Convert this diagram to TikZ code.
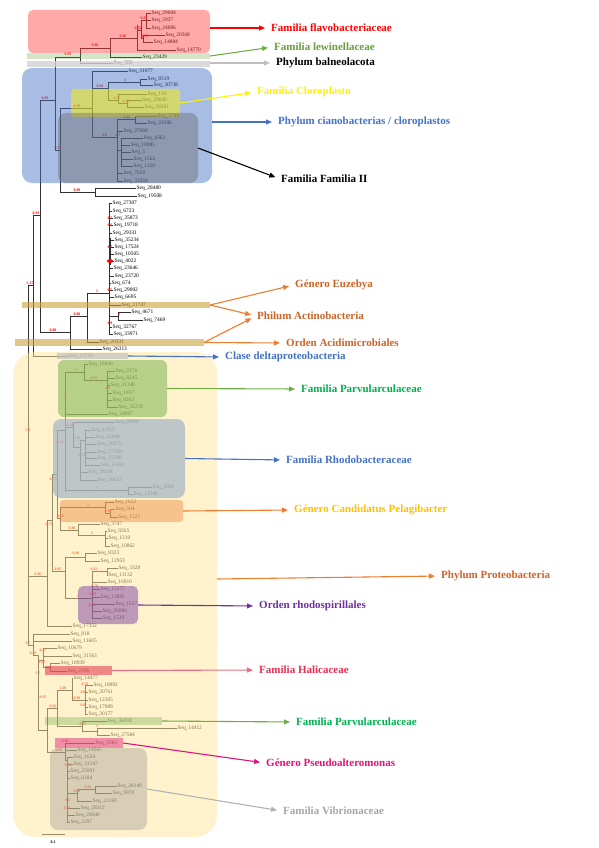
\documentclass[tikz,border=0pt]{standalone}
\usepackage{fontspec}
\setmainfont{Liberation Serif}
\usetikzlibrary{arrows.meta}

\definecolor{cBlue}{HTML}{4472C4}
\definecolor{cOrange}{HTML}{ED7D31}
\definecolor{cBrown}{HTML}{CC6428}
\definecolor{cGreen}{HTML}{70AD47}
\definecolor{cLeaf}{HTML}{00B050}
\definecolor{cOlive}{HTML}{6A9E3A}
\definecolor{cGold}{HTML}{FFC000}
\definecolor{cPurple}{HTML}{7030A0}
\definecolor{cCrimson}{HTML}{E5304F}
\definecolor{cMagenta}{HTML}{E0147A}
\definecolor{cTan}{HTML}{CDA03C}
\definecolor{cCream}{HTML}{FFE699}
\definecolor{cSlate}{HTML}{9DAFC8}
\definecolor{cTree}{HTML}{303030}

\begin{document}
\begin{tikzpicture}[x=1pt, y=-1pt, line join=round,
  br/.style={cTree, line width=0.65pt},
  seq/.style={anchor=west, inner sep=0.4pt, font=\fontsize{5.4}{5.6}\selectfont},
  bs/.style={inner sep=0pt, text=red, font=\fontsize{3.9}{4}\selectfont\bfseries},
  grp/.style={anchor=west, inner sep=1pt, font=\fontsize{11}{13}\selectfont\bfseries},
  box/.style={draw=none, inner sep=0pt, outer sep=0pt, anchor=north west},
  arr/.style={-{Triangle[width=5pt,length=6pt]}, line width=1.1pt, shorten >=5pt},
]
  % ── 分组框：左上角 + 右下角（像素坐标，y 向下）──
  \def\zone#1#2#3#4#5#6{%
    \node[box, #6, minimum width={(#4-#2)*1pt}, minimum height={(#5-#3)*1pt}] (#1) at (#2,#3) {};%
  }

  % ── 树：竖线 ──
  \foreach \x/\a/\b in {146/13/28, 143/35/42, 141/20/38, 137/25/50, 110/38/57, 80/48/63, 55/57/150,
      140/79/85, 127/100/107, 118/94/103, 108/82/100, 135/116/123, 121/138/166, 117/119/181,
      92/71/137, 95/188/196, 60/108/192,
      40/100/332, 118/312/320, 109/203/334, 87/293/342, 70/316/349, 33/215/356, 28/285/645,
      84/364/380, 107/371/407, 85/430/465, 80/440/480, 73/422/447, 128/487/494, 65/372/492,
      110/509/517, 105/502/513, 105/531/546, 78/524/535, 60/507/530, 57/430/518, 52/474/571,
      85/553/561, 107/568/575, 92/571/618, 65/557/598, 47/520/626,
      33/634/655, 43/648/667, 50/663/671, 38/655/730, 47/708/752, 57/690/726, 72/678/700,
      85/685/714, 82/721/731, 97/728/735, 65/743/760, 67/757/822, 77/789/801, 95/786/793}
    \draw[br] (\x,\a) -- (\x,\b);

  % ── 树：内部横线 ──
  \foreach \a/\b/\y in {141/146/20, 141/143/38, 137/141/30, 110/137/38, 80/110/48, 55/80/57,
      55/60/150, 40/55/100, 60/92/108, 92/108/88, 108/140/82, 108/118/100, 118/127/103,
      92/117/137, 117/135/119, 117/121/150, 60/95/192,
      33/40/215, 40/70/332, 70/87/316, 87/109/293, 109/118/316, 28/33/285,
      28/47/576, 47/52/520, 52/57/474, 52/65/571, 57/65/430, 57/60/518, 65/84/372, 84/107/380,
      65/73/427, 73/80/447, 80/85/440, 65/128/490, 60/105/507, 105/110/513, 60/78/530,
      78/105/535, 65/85/557, 65/92/598, 92/107/571,
      28/33/645, 33/38/655, 38/43/660, 43/50/667, 38/47/730, 47/57/708, 57/72/690, 72/85/700,
      57/82/726, 82/97/731, 47/65/752, 65/67/760, 67/77/793, 77/95/789}
    \draw[br] (\a,\y) -- (\b,\y);

  % ── 叶子：起点 / 标签 x / y / 编号 ──
  \foreach \a/\b/\y/\n in {146/151/13/29604, 146/151/20/5937, 146/151/28/24006, 143/165/35/20368,
      143/153/42/14884, 137/176/50/14770, 110/142/57/23429, 80/113/63/306,
      92/128/71/31077, 140/147/79/8519, 140/153/85/30738, 118/147/94/120, 127/142/100/20630,
      127/144/107/28261, 135/157/116/3749, 135/147/123/24586, 117/123/131/27004, 121/143/138/4362,
      121/130/145/10085, 121/131/152/5, 121/133/159/1562, 121/133/166/1120, 117/123/173/7650,
      117/123/181/33254, 95/136/188/28480, 95/137/196/19508,
      109/112/203/27307, 109/112/211/6723, 109/113/218/35873, 109/113/225/19718, 109/112/233/29331,
      109/114/240/35234, 109/114/247/17524, 109/114/254/10505, 109/114/261/4022, 109/113/268/23646,
      109/114/276/23720, 109/111/283/674, 109/113/290/29002, 109/114/297/6695, 109/121/305/21747,
      118/131/312/4671, 118/143/320/7469, 109/112/327/32767, 109/113/334/33971, 87/99/342/20331,
      70/102/349/26313, 33/68/356/13730,
      84/88/364/18440, 107/115/371/2176, 107/115/378/8245, 107/110/385/31340, 107/112/393/1457,
      107/112/400/8263, 107/118/407/32278, 65/108/414/24997, 73/115/422/20987, 85/91/430/11937,
      85/95/437/25084, 85/97/444/26075, 85/97/452/27509, 85/97/458/15598, 85/100/465/15361,
      80/88/472/28244, 80/97/480/28632, 128/152/487/3902, 128/133/494/12348, 105/114/502/1622,
      110/115/509/504, 110/118/517/1521, 78/100/524/3747, 105/107/531/9265, 105/108/538/1210,
      105/110/546/10862, 85/97/553/8323, 85/100/561/12953, 107/118/568/3328, 107/108/575/11132,
      92/107/582/16910, 92/100/589/15277, 92/100/597/13092, 92/115/604/1637, 92/102/611/26084,
      92/102/618/1539, 47/72/626/17352,
      33/70/634/818, 33/72/641/11605, 43/57/648/10679, 43/72/656/31563, 50/60/663/18939,
      50/67/671/2106, 72/73/678/14477, 85/93/685/18892, 85/88/692/20761, 85/88/700/12305,
      85/88/707/17989, 85/88/714/30177, 82/107/721/36018, 97/177/728/14412, 97/110/735/27584,
      65/95/743/3383, 65/77/750/14565, 67/73/757/1624, 67/73/764/31247, 67/70/771/25001,
      67/70/778/6184, 95/117/786/28140, 95/112/793/9970, 77/92/801/23169, 67/80/808/28312,
      67/75/815/24648, 67/70/822/2297} {
    \node[seq] (s\n) at (\b,\y) {Seq\_\n};
    \draw[br] (\a,\y) -- (s\n.west);
  }
  % 放线菌那一串叶子根部又粗又红
  \draw[cTree, line width=1.6pt] (110,238) -- (110,265);
  \fill[red] (110,261) ellipse (3 and 2);

  % ── 支持率（红色小字）──
  \foreach \x/\y/\v [count=\i] in {68/54/0.95, 95/45/0.80, 123/36/0.80, 138/28/0.93, 144/18/0.95,
      145/36/0.97, 45/98/0.93, 77/106/0.69, 100/86/0.93, 125/80/1, 117/98/0.77, 126/101/0.83,
      127/117/0.80, 105/135/0.6, 118/135/0.7, 58/148/0.77, 77/190/0.89, 36/213/0.93, 30/283/5.27,
      97/291/1, 77/314/0.88, 53/330/0.88, 119/314/1, 110/218/0.5, 110/225/0.6, 110/247/0.7,
      110/290/0.5, 110/323/0.9, 76/370/1, 94/378/0.95, 65/396/1, 108/388/0.9, 28/430/5.8,
      70/425/0.64, 60/442/0.51, 77/438/0.91, 82/455/0.55, 53/479/0.57, 97/488/1, 88/505/1,
      61/516/0.53, 108/511/0.92, 49/524/0.73, 72/528/0.80, 92/533/1, 76/553/0.86, 58/569/0.85,
      94/569/0.62, 78/596/1, 38/574/0.86, 95/586/0.76, 93/594/0.79, 92/605/0.62, 28/643/0.7,
      33/653/0.59, 43/650/0.67, 42/662/0.67, 38/673/3.7, 43/697/0.95, 63/688/1.00, 85/684/0.76,
      83/692/0.8, 83/705/0.8, 77/698/0.80, 83/724/0.75, 97/726/1, 53/706/0.62, 65/741/0.98,
      59/750/0.95, 68/765/0.95, 88/787/0.95, 77/791/0.80, 68/800/0.6, 67/808/0.95}
    \node[bs] (bs\i) at (\x,\y) {\v};

  % ── 标尺 ──
  \draw[br] (42,834) -- (65,834);
  \node[inner sep=0pt, font=\fontsize{4}{4.5}\selectfont\bfseries] (scalelbl) at (53,842) {0.1};

  % ── 半透明分组框（盖在树上）──
  \zone{proteobox}{13}{352}{217}{837}{fill=cCream, fill opacity=.5, rounded corners=22pt}
  \zone{flavobox}{28}{10}{210}{53}{fill=red!75, fill opacity=.45, rounded corners=5pt}
  \zone{lewinband}{27}{53}{210}{59}{fill=cGreen, fill opacity=.3}
  \zone{balneoband}{27}{61}{210}{67}{fill=black!18, fill opacity=.8}
  \zone{cyanobox}{22}{68}{212}{183}{fill=cBlue, fill opacity=.47, rounded corners=10pt}
  \zone{clorobox}{71}{89}{180}{117}{fill=yellow, fill opacity=.5, rounded corners=3pt}
  \zone{famIIbox}{58}{113}{198}{183}{fill=black!60, fill opacity=.4, rounded corners=8pt}
  \zone{actinoA}{22}{302}{210}{308}{fill=cTan, fill opacity=.6}
  \zone{actinoB}{15}{339}{204}{346}{fill=cTan, fill opacity=.6}
  \zone{deltaband}{57}{353}{128}{359}{fill=black!25, fill opacity=.7}
  \zone{parvbox}{58}{360}{167}{417}{fill=cGreen, fill opacity=.5, rounded corners=6pt}
  \zone{rhodobox}{53}{419}{185}{498}{fill=cSlate, fill opacity=.65, rounded corners=8pt}
  \zone{candidbox}{60}{500}{183}{522}{fill=cOrange, fill opacity=.4, rounded corners=3pt}
  \zone{rhodospbox}{78}{586}{138}{624}{fill=cPurple, fill opacity=.45, rounded corners=5pt}
  \zone{halicband}{45}{666}{112}{675}{fill=cCrimson, fill opacity=.55}
  \zone{parvband}{45}{717}{162}{725}{fill=cGreen, fill opacity=.35}
  \zone{pseudoband}{55}{738}{123}{748}{fill=cMagenta, fill opacity=.45}
  \zone{vibriobox}{50}{748}{147}{830}{fill=black!45, fill opacity=.35, rounded corners=8pt}

  % ── 右侧分类名 ──
  \node[grp, text=red] (tflavo) at (270,28) {Familia flavobacteriaceae};
  \node[grp, text=cOlive] (tlewin) at (273,47) {Familia lewinellaceae};
  \node[grp] (tbalneo) at (275,63) {Phylum balneolacota};
  \node[grp, text=yellow] (tcloro) at (256,92) {Familia Cloroplasto};
  \node[grp, text=cBlue] (tciano) at (277,122) {Phylum cianobacterias / cloroplastos};
  \node[grp] (tfamII) at (280,179) {Familia Familia II};
  \node[grp, text=cBrown] (teuzebya) at (294,285) {Género Euzebya};
  \node[grp, text=cBrown] (tactino) at (256,316) {Philum Actinobacteria};
  \node[grp, text=cBrown] (tacidi) at (285,343) {Orden Acidimicrobiales};
  \node[grp, text=cBlue] (tdelta) at (224,357) {Clase deltaproteobacteria};
  \node[grp, text=cLeaf] (tparvA) at (300,389) {Familia Parvularculaceae};
  \node[grp, text=cBlue] (trhodo) at (285,460) {Familia Rhodobacteraceae};
  \node[grp, text=cGold] (tpelagi) at (293,510) {Género Candidatus Pelagibacter};
  \node[grp, text=cBrown] (tproteo) at (440,576) {Phylum Proteobacteria};
  \node[grp, text=cPurple] (trhodosp) at (258,606) {Orden rhodospirillales};
  \node[grp, text=cCrimson] (thalic) at (258,670) {Familia Halicaceae};
  \node[grp, text=cLeaf] (tparvB) at (295,722) {Familia Parvularculaceae};
  \node[grp, text=cMagenta] (tpseudo) at (265,763) {Género Pseudoalteromonas};
  \node[grp, text=black!35] (tvibrio) at (282,811) {Familia Vibrionaceae};

  % ── 箭头：框 → 名称 ──
  \draw[arr, red] (flavobox.east |- tflavo.west) -- (tflavo.west);
  \draw[arr, cGreen] (lewinband.east) -- (tlewin.west);
  \draw[arr, black!25] (balneoband.east |- tbalneo.west) -- (tbalneo.west);
  \draw[arr, yellow] (clorobox.east) -- (tcloro.west);
  \draw[arr, cBlue] (cyanobox.east |- tciano.west) -- (tciano.west);
  \draw[arr, black] (famIIbox.east) -- (tfamII.west);
  \draw[arr, cOrange] (actinoA.east) -- (teuzebya.west);
  \draw[arr, cOrange] (actinoA.east) -- (tactino.west);
  \draw[arr, cOrange] (actinoB.east) -- (tactino.west);
  \draw[arr, cOrange] (actinoB.east) -- (tacidi.west);
  \draw[arr, cBlue] (deltaband.east) -- (tdelta.west);
  \draw[arr, cGreen] (parvbox.east) -- (tparvA.west);
  \draw[arr, cBlue] (rhodobox.east) -- (trhodo.west);
  \draw[arr, cOrange] (candidbox.east) -- (tpelagi.west);
  \draw[arr, cOrange] ([yshift=15.5pt]proteobox.east) -- (tproteo.west);
  \draw[arr, cPurple] (rhodospbox.east) -- (trhodosp.west);
  \draw[arr, cCrimson!70] (halicband.east) -- (thalic.west);
  \draw[arr, cGreen] (parvband.east) -- (tparvB.west);
  \draw[arr, cMagenta] (pseudoband.east) -- (tpseudo.west);
  \draw[arr, black!30] (vibriobox.east) -- (tvibrio.west);

  \path[use as bounding box] (0,0) rectangle (599,848);
\end{tikzpicture}
\end{document}
